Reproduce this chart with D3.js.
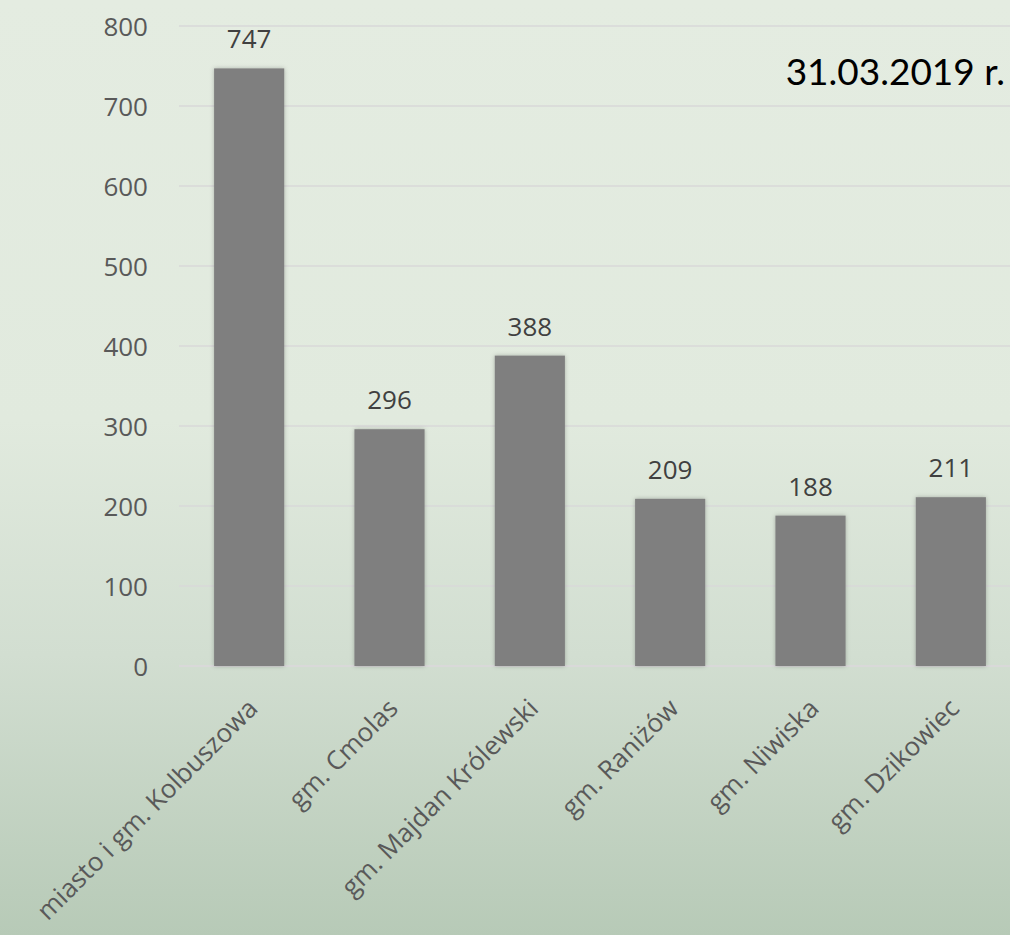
<!DOCTYPE html>
<html>
<head>
<meta charset="utf-8">
<script src="https://cdn.jsdelivr.net/npm/d3@7"></script>
<style>
  body { margin: 0; padding: 0; }
</style>
</head>
<body>
<div id="barChart"></div>
<script>
// Set up SVG dimensions
const w = 1010;
const h = 935;
const margin = {top: 26, right: -11, bottom: 269, left: 179};

// Data
const categories = ["miasto i gm. Kolbuszowa", "gm. Cmolas", "gm. Majdan Królewski", "gm. Raniżów", "gm. Niwiska", "gm. Dzikowiec"];
const values = [747, 296, 388, 209, 188, 211];
const yTicks = [0, 100, 200, 300, 400, 500, 600, 700, 800];
const dateLabel = "31.03.2019 r.";

const svg = d3.select("#barChart")
  .append("svg")
  .attr("width", w)
  .attr("height", h);

// Background gradient
const defs = svg.append("defs");
const grad = defs.append("linearGradient")
  .attr("id", "bg")
  .attr("x1", 0).attr("y1", 0).attr("x2", 0).attr("y2", 1);
grad.append("stop").attr("offset", "0%").attr("stop-color", "#e4ece1");
grad.append("stop").attr("offset", "45%").attr("stop-color", "#e1eade");
grad.append("stop").attr("offset", "70%").attr("stop-color", "#d2ded1");
grad.append("stop").attr("offset", "100%").attr("stop-color", "#b7cab7");

const shadow = defs.append("filter").attr("id", "shadow")
  .attr("x", "-20%").attr("y", "-5%").attr("width", "140%").attr("height", "110%");
shadow.append("feDropShadow")
  .attr("dx", 0).attr("dy", 0).attr("stdDeviation", 2)
  .attr("flood-color", "#000").attr("flood-opacity", 0.25);

svg.append("rect")
  .attr("width", w)
  .attr("height", h)
  .attr("fill", "url(#bg)");

// Scales
const xScale = d3.scaleBand()
  .domain(categories)
  .range([margin.left, w - margin.right])
  .paddingInner(0.5)
  .paddingOuter(0.25);

const yScale = d3.scaleLinear()
  .domain([0, 800])
  .range([h - margin.bottom, margin.top]);

// Gridlines
svg.append("g")
  .selectAll("line")
  .data(yTicks)
  .enter()
  .append("line")
  .attr("x1", margin.left)
  .attr("x2", w)
  .attr("y1", (d) => yScale(d))
  .attr("y2", (d) => yScale(d))
  .attr("stroke", "#d9d9d9")
  .attr("stroke-width", (d) => d === 0 ? 2 : 1.3);

// Y axis
const yAxis = d3.axisLeft(yScale).tickValues(yTicks).tickSize(0).tickPadding(0);
const gy = svg.append("g")
  .attr("transform", "translate(148,0)")
  .call(yAxis);
gy.select(".domain").remove();
gy.selectAll("text")
  .attr("font-family", "'Open Sans', sans-serif")
  .attr("font-size", "26px")
  .attr("fill", "#595959")
  .attr("dy", "0.36em");

// Bars
svg.selectAll(".bar")
  .data(values)
  .enter()
  .append("rect")
  .attr("class", "bar")
  .attr("x", (d, i) => xScale(categories[i]))
  .attr("y", (d) => yScale(d))
  .attr("width", xScale.bandwidth())
  .attr("height", (d) => yScale(0) - yScale(d))
  .attr("fill", "#7f7f7f")
  .attr("filter", "url(#shadow)");

// Value labels
svg.selectAll(".barText")
  .data(values)
  .enter()
  .append("text")
  .attr("class", "barText")
  .attr("x", (d, i) => xScale(categories[i]) + xScale.bandwidth() / 2)
  .attr("y", (d) => yScale(d) - 20)
  .attr("text-anchor", "middle")
  .attr("font-family", "'Open Sans', sans-serif")
  .attr("font-size", "26px")
  .attr("fill", "#404040")
  .text((d) => d);

// Category labels
svg.selectAll(".catText")
  .data(categories)
  .enter()
  .append("text")
  .attr("class", "catText")
  .attr("transform", (d) => "translate(" + (xScale(d) + xScale.bandwidth() / 2 + 10) + "," + (yScale(0) + 44) + ") rotate(-45)")
  .attr("text-anchor", "end")
  .attr("font-family", "'Open Sans', sans-serif")
  .attr("font-size", "26px")
  .attr("fill", "#595959")
  .text((d) => d);

// Date label
svg.append("text")
  .attr("x", 1005)
  .attr("y", 85)
  .attr("text-anchor", "end")
  .attr("font-family", "Lato, 'Open Sans', sans-serif")
  .attr("font-size", "37px")
  .attr("fill", "#000")
  .text(dateLabel);
</script>
</body>
</html>
